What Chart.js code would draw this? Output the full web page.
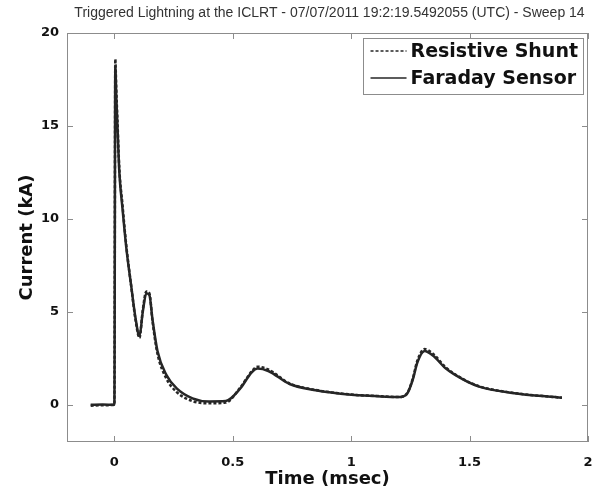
<!DOCTYPE html>
<html>
<head>
<meta charset="utf-8">
<script src="https://cdn.jsdelivr.net/npm/chart.js@4.4.1/dist/chart.umd.min.js"></script>
<style>
  html, body { margin: 0; padding: 0; background: #fff; }
  canvas { display: block; }
</style>
</head>
<body>
<canvas id="sweepChart" width="604" height="491"></canvas>
<script>
const chartTitle = 'Triggered Lightning at the ICLRT - 07/07/2011 19:2:19.5492055 (UTC) - Sweep 14';

// time in msec, current in kA
const timeMs = [-0.1, -0.05, 0.0, 0.004, 0.008, 0.013, 0.021, 0.034, 0.05, 0.072,
  0.089, 0.106, 0.12, 0.135, 0.148, 0.161, 0.182, 0.22, 0.262, 0.33,
  0.40, 0.47, 0.53, 0.58, 0.605, 0.65, 0.74, 0.85, 1.0, 1.1,
  1.2, 1.235, 1.26, 1.28, 1.31, 1.345, 1.40, 1.47, 1.54, 1.68, 1.89];
const shuntKA = [-0.05, -0.02, 0.0, 18.6, 17.0, 15.3, 12.7, 10.8, 8.6, 6.3,
  4.6, 3.6, 5.1, 6.1, 6.0, 4.5, 2.75, 1.4, 0.7, 0.2,
  0.08, 0.12, 0.9, 1.8, 2.05, 1.9, 1.15, 0.8, 0.55, 0.48,
  0.42, 0.6, 1.4, 2.4, 3.0, 2.75, 2.0, 1.4, 1.0, 0.65, 0.38];
const faradayKA = [0.0, 0.02, 0.0, 18.2, 16.6, 15.0, 12.5, 10.6, 8.5, 6.3,
  4.7, 3.7, 5.0, 6.0, 5.9, 4.6, 2.9, 1.6, 0.9, 0.35,
  0.18, 0.2, 0.85, 1.75, 1.95, 1.82, 1.12, 0.78, 0.54, 0.47,
  0.42, 0.58, 1.35, 2.3, 2.9, 2.65, 1.95, 1.38, 0.98, 0.64, 0.38];

const xTicks = [0, 0.5, 1, 1.5, 2];
const yTicks = [0, 5, 10, 15, 20];

const boldFont = 'DejaVu Sans';
const inkColor = '#111';
const traceColor = '#262626';

function toPoints(values) {
  return values.map((v, i) => ({ x: timeMs[i], y: v }));
}

// MATLAB style title, centred over the axes box
const titlePlugin = {
  id: 'topTitle',
  afterDraw(chart) {
    const ctx = chart.ctx, area = chart.chartArea;
    ctx.save();
    ctx.font = '14px "Liberation Sans", Arial, sans-serif';
    ctx.fillStyle = '#333';
    ctx.textAlign = 'center';
    ctx.textBaseline = 'middle';
    ctx.fillText(chartTitle, (area.left + area.right) / 2 + 2, 13);
    ctx.restore();
  }
};

// axes box with inward ticks on all four sides
const boxPlugin = {
  id: 'axesBox',
  afterDraw(chart) {
    const ctx = chart.ctx, a = chart.chartArea;
    const xs = chart.scales.x, ys = chart.scales.y;
    const len = 6;
    ctx.save();
    ctx.strokeStyle = '#8c8c8c';
    ctx.lineWidth = 1;
    ctx.strokeRect(a.left + 0.5, a.top + 0.5, a.right - a.left - 1, a.bottom - a.top - 1);
    ctx.beginPath();
    xTicks.forEach(v => {
      const px = Math.round(xs.getPixelForValue(v)) + 0.5;
      ctx.moveTo(px, a.bottom); ctx.lineTo(px, a.bottom - len);
      ctx.moveTo(px, a.top); ctx.lineTo(px, a.top + len);
    });
    yTicks.forEach(v => {
      const py = Math.round(ys.getPixelForValue(v)) + 0.5;
      ctx.moveTo(a.left, py); ctx.lineTo(a.left + len, py);
      ctx.moveTo(a.right, py); ctx.lineTo(a.right - len, py);
    });
    ctx.stroke();
    ctx.restore();
  }
};

// boxed legend in the top right corner
const legendPlugin = {
  id: 'boxLegend',
  afterDraw(chart) {
    const ctx = chart.ctx, a = chart.chartArea;
    const sets = chart.data.datasets;
    ctx.save();
    ctx.font = 'bold 19px "' + boldFont + '"';
    let textW = 0;
    sets.forEach(ds => { textW = Math.max(textW, ctx.measureText(ds.label).width); });
    const lineLen = 36, gap = 4, padL = 8, padR = 5, rowH = 27;
    const w = padL + lineLen + gap + textW + padR;
    const h = rowH * sets.length + 2;
    const right = a.right - 5, top = a.top + 5;
    const left = right - w;
    ctx.fillStyle = '#fff';
    ctx.fillRect(left, top, w, h);
    ctx.strokeStyle = '#8c8c8c';
    ctx.lineWidth = 1;
    ctx.strokeRect(Math.round(left) + 0.5, top + 0.5, Math.round(w), h);
    sets.forEach((ds, i) => {
      const y = top + 13 + i * rowH;
      ctx.beginPath();
      ctx.strokeStyle = ds.borderColor;
      ctx.lineWidth = 1.5;
      ctx.setLineDash(ds.borderDash || []);
      ctx.moveTo(left + padL, y);
      ctx.lineTo(left + padL + lineLen, y);
      ctx.stroke();
      ctx.setLineDash([]);
      ctx.fillStyle = inkColor;
      ctx.textAlign = 'left';
      ctx.textBaseline = 'middle';
      ctx.fillText(ds.label, left + padL + lineLen + gap, y + 1);
    });
    ctx.restore();
  }
};

new Chart(document.getElementById('sweepChart'), {
  type: 'line',
  data: {
    datasets: [
      {
        label: 'Resistive Shunt',
        data: toPoints(shuntKA),
        borderColor: traceColor,
        borderWidth: 2.5,
        borderDash: [3, 2],
        pointRadius: 0,
        cubicInterpolationMode: 'monotone',
        fill: false
      },
      {
        label: 'Faraday Sensor',
        data: toPoints(faradayKA),
        borderColor: traceColor,
        borderWidth: 2.5,
        pointRadius: 0,
        cubicInterpolationMode: 'monotone',
        fill: false
      }
    ]
  },
  options: {
    responsive: false,
    animation: false,
    layout: { padding: { top: 33, right: 16, left: 0, bottom: 0 } },
    plugins: {
      legend: { display: false },
      title: { display: false },
      tooltip: { enabled: false }
    },
    scales: {
      x: {
        type: 'linear',
        min: -0.2,
        max: 2,
        afterBuildTicks: s => { s.ticks = xTicks.map(v => ({ value: v })); },
        afterFit: s => { s.height = 49; s.paddingLeft = 0; s.paddingRight = 0; },
        grid: { display: false, drawTicks: false },
        border: { display: false },
        ticks: {
          padding: 13,
          color: inkColor,
          font: { family: boldFont, size: 13, weight: 'bold' },
          callback: v => String(v)
        },
        title: {
          display: true,
          text: 'Time (msec)',
          color: inkColor,
          font: { family: boldFont, size: 18, weight: 'bold' },
          padding: { top: 0, bottom: 1 }
        }
      },
      y: {
        type: 'linear',
        min: -2,
        max: 20,
        afterBuildTicks: s => { s.ticks = yTicks.map(v => ({ value: v })); },
        afterFit: s => { s.width = 67; },
        grid: { display: false, drawTicks: false },
        border: { display: false },
        ticks: {
          padding: 8,
          color: inkColor,
          font: { family: boldFont, size: 13, weight: 'bold' },
          callback: v => String(v)
        },
        title: {
          display: true,
          text: 'Current (kA)',
          color: inkColor,
          font: { family: boldFont, size: 18, weight: 'bold' },
          padding: { top: 17, bottom: 0 }
        }
      }
    }
  },
  plugins: [titlePlugin, boxPlugin, legendPlugin]
});
</script>
</body>
</html>
